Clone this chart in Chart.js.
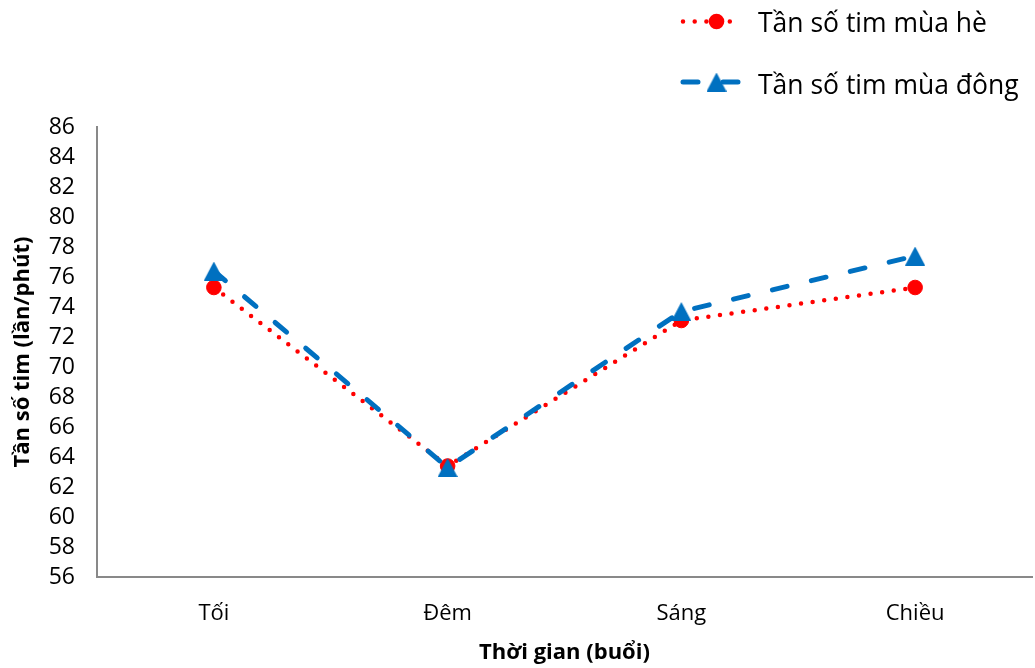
<!DOCTYPE html>
<html>
<head>
<meta charset="utf-8">
<title>Tần số tim theo thời gian</title>
<script src="https://cdn.jsdelivr.net/npm/chart.js@4.4.1/dist/chart.umd.min.js"></script>
<style>
  html, body { margin: 0; padding: 0; background: #ffffff; overflow: hidden; }
  #wrap { width: 1035px; height: 668px; }
  canvas { display: block; }
</style>
</head>
<body>
<div id="wrap"><canvas id="c" width="1035" height="668"></canvas></div>
<script>
// ---- data ----
const categories = ['Tối', 'Đêm', 'Sáng', 'Chiều'];
const summerRate = [75.3, 63.4, 73.1, 75.3];
const winterRate = [76.4, 63.3, 73.7, 77.4];
const seriesNames = ['Tần số tim mùa hè', 'Tần số tim mùa đông'];
const yMin = 56, yMax = 86, yStep = 2;
const xTitle = 'Thời gian (buổi)';
const yTitle = 'Tần số tim (lần/phút)';

// ---- styling ----
const FONT = "'Open Sans', 'Noto Sans', sans-serif";
const RED = '#FF0000';
const BLUE = '#0070C0';
const AXIS = '#898989';

// triangle marker drawn into its own small canvas so it sits centred on the point
function triangleMarker(w, h, color) {
  const c = document.createElement('canvas');
  c.width = w; c.height = h;
  const g = c.getContext('2d');
  g.fillStyle = color;
  g.beginPath();
  g.moveTo(w / 2, 0);
  g.lineTo(w, h);
  g.lineTo(0, h);
  g.closePath();
  g.fill();
  return c;
}
const triImg = triangleMarker(20, 19, BLUE);

// legend in the top-right corner, stacked vertically
const cornerLegend = {
  id: 'cornerLegend',
  afterDraw(chart) {
    const ctx = chart.ctx;
    const ds = chart.data.datasets;
    const x0 = 683, x1 = 741, xm = 716.5, tx = 758;
    const rows = [21.5, 82];
    const bases = [31.5, 94];
    ctx.save();
    ds.forEach((d, i) => {
      const y = rows[i];
      ctx.strokeStyle = d.borderColor;
      ctx.lineWidth = d.borderWidth;
      ctx.lineCap = 'round';
      ctx.setLineDash(d.borderDash);
      ctx.beginPath();
      ctx.moveTo(x0, y);
      ctx.lineTo(x1, y);
      ctx.stroke();
      ctx.setLineDash([]);
      if (d.pointStyle === 'circle') {
        ctx.fillStyle = d.pointBackgroundColor;
        ctx.beginPath();
        ctx.arc(xm, y, d.pointRadius + 0.5, 0, Math.PI * 2);
        ctx.fill();
      } else {
        const img = d.pointStyle;
        ctx.drawImage(img, xm - img.width / 2, y - img.height / 2);
      }
      ctx.fillStyle = '#000';
      ctx.font = '26.5px ' + FONT;
      ctx.textBaseline = 'alphabetic';
      ctx.textAlign = 'left';
      ctx.fillText(d.label, tx, bases[i]);
    });
    ctx.restore();
  }
};

new Chart(document.getElementById('c'), {
  type: 'line',
  data: {
    labels: categories,
    datasets: [
      {
        label: seriesNames[0],
        data: summerRate,
        order: 2,
        borderColor: RED,
        borderWidth: 4.5,
        borderDash: [0, 11.7],
        borderCapStyle: 'round',
        pointStyle: 'circle',
        pointRadius: 7.3,
        pointBackgroundColor: RED,
        pointBorderColor: RED,
        pointBorderWidth: 1,
        fill: false,
        tension: 0
      },
      {
        label: seriesNames[1],
        data: winterRate,
        order: 1,
        borderColor: BLUE,
        borderWidth: 5,
        borderDash: [15, 25],
        borderCapStyle: 'round',
        pointStyle: triImg,
        pointRadius: 10,
        fill: false,
        tension: 0
      }
    ]
  },
  options: {
    responsive: false,
    animation: false,
    events: [],
    devicePixelRatio: 1,
    layout: { autoPadding: false, padding: { top: 127, right: 3, bottom: 2, left: 0 } },
    plugins: {
      legend: { display: false },
      tooltip: { enabled: false }
    },
    scales: {
      x: {
        offset: true,
        grid: { display: false, drawTicks: false },
        border: { display: true, color: AXIS, width: 2 },
        ticks: { color: '#000', font: { family: FONT, size: 22 }, padding: 24, maxRotation: 0, autoSkip: false },
        title: {
          display: true, text: xTitle, color: '#000',
          font: { family: FONT, size: 22, weight: 'bold' },
          padding: { top: 0, bottom: 0 }
        },
        afterFit(s) { s.height = 89; s.paddingLeft = 0; s.paddingRight = 0; }
      },
      y: {
        min: yMin,
        max: yMax,
        grid: { display: false, drawTicks: false },
        border: { display: true, color: AXIS, width: 2 },
        ticks: { stepSize: yStep, color: '#000', font: { family: FONT, size: 23 }, padding: 22, autoSkip: false },
        title: {
          display: true, text: yTitle, color: '#000',
          font: { family: FONT, size: 22, weight: 'bold' },
          padding: { top: 10, bottom: 0 }
        },
        afterFit(s) { s.width = 97; }
      }
    }
  },
  plugins: [cornerLegend]
});
</script>
</body>
</html>
